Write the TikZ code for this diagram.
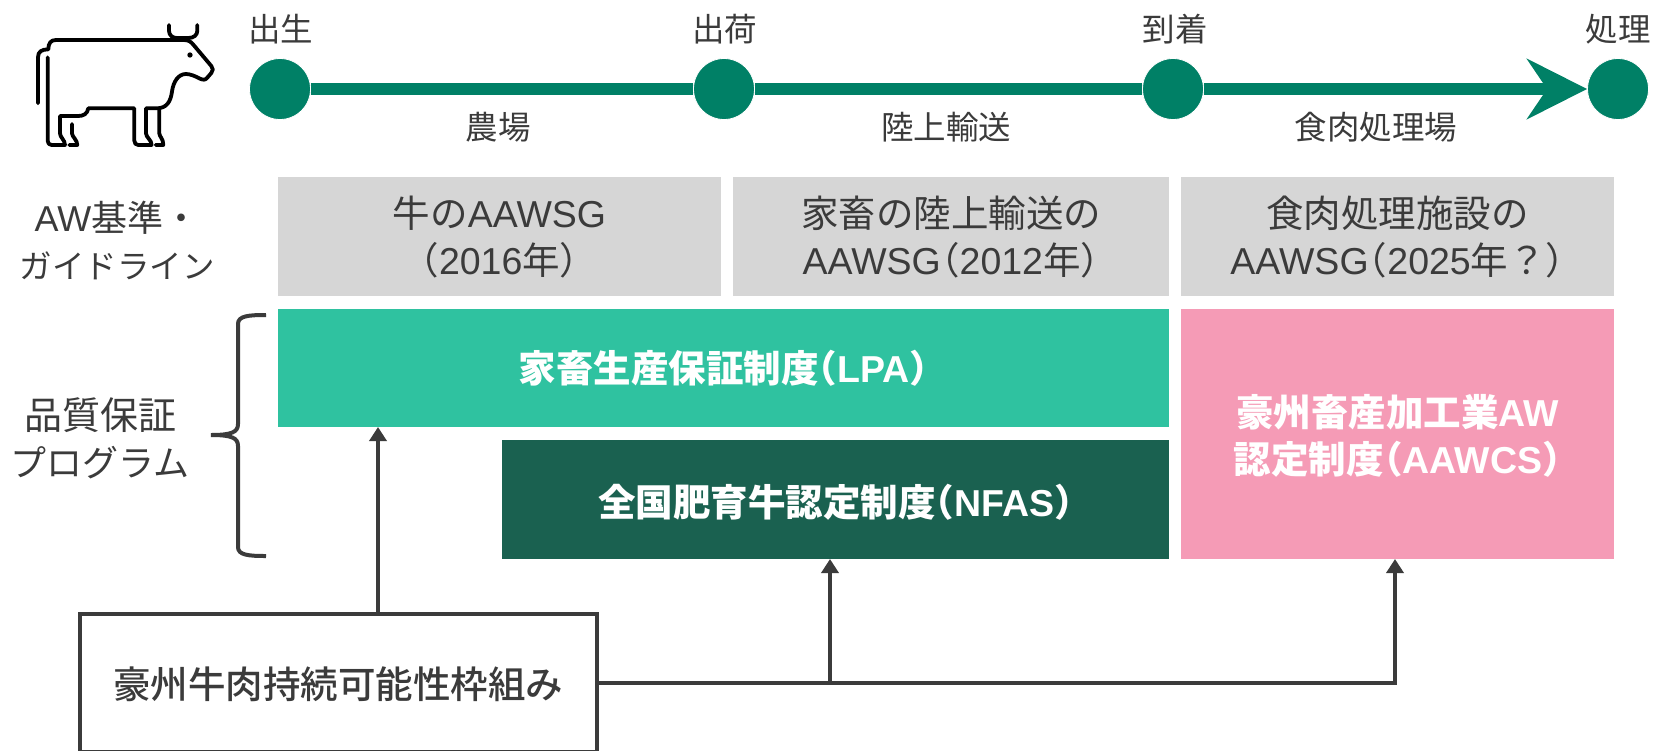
\documentclass[tikz,border=0pt]{standalone}
\usepackage{fontspec}
\setmainfont{Noto Sans CJK JP}
\newfontfamily\latfont{Liberation Sans}
\newfontfamily\heavyfont{Noto Sans CJK JP Medium}
\newfontfamily\halffont[RawFeature=+halt]{Noto Sans CJK JP}
\newcommand{\lat}[1]{{\latfont #1}}
\newcommand{\lp}{{\halffont （}}
\newcommand{\rp}{{\halffont ）}}
\newcommand{\sized}[2]{{\fontsize{#1}{47}\selectfont #2}}
\newcommand{\lowered}[2]{\raisebox{-#1}[\height][\depth]{\begin{tabular}{@{}c@{}}#2\end{tabular}}}
\usepackage{tikz}
\usetikzlibrary{arrows.meta}
\definecolor{dotgreen}{HTML}{008066}
\definecolor{lpagreen}{HTML}{2FC2A0}
\definecolor{nfasgreen}{HTML}{1A6150}
\definecolor{aapink}{HTML}{F59BB6}
\definecolor{stdgrey}{HTML}{D6D6D6}
\definecolor{inkgrey}{HTML}{3B3B3B}
\tikzset{
  dot/.style={circle,fill=dotgreen,draw=white,line width=0.8pt,minimum size=61pt,inner sep=0pt},
  track/.style={dotgreen,line width=12pt},
  stagelabel/.style={text=inkgrey,font=\fontsize{32.5}{40}\selectfont,inner sep=0pt,align=center},
  sidelabel/.style={text=inkgrey,font=\fontsize{36}{47}\selectfont,inner sep=0pt,align=center},
  greybox/.style={fill=stdgrey,text=inkgrey,inner sep=0pt,align=center,font=\fontsize{37.5}{47}\selectfont},
  progbox/.style={text=white,inner sep=0pt,align=center,font=\fontsize{37.5}{47}\selectfont\bfseries},
  link/.style={inkgrey,line width=3.6pt,-{Triangle[length=14pt,width=17pt]}},
  cowline/.style={black,line width=3.8pt,line cap=round,line join=round},
}
\begin{document}
\begin{tikzpicture}[x=1pt,y=-1pt]
\useasboundingbox (0,0) rectangle (1653,750);
% timeline
\node[dot] (birth) at (280,89) {};
\node[dot] (ship) at (724,89) {};
\node[dot] (arrive) at (1173,89) {};
\node[dot] (slaughter) at (1618,89) {};
\draw[track] (birth) -- (ship);
\draw[track] (ship) -- (arrive);
\draw[track,-{Stealth[length=60pt,width=60pt,inset=20pt]}] (arrive) -- (slaughter);
\node[stagelabel] (birthlabel) at (280.5,29.5) {出生};
\node[stagelabel] (shiplabel) at (724.5,29.5) {出荷};
\node[stagelabel] (arrivelabel) at (1175,29.5) {到着};
\node[stagelabel] (slaughterlabel) at (1618,29.5) {処理};
\node[stagelabel] (farmlabel) at (498,127) {農場};
\node[stagelabel] (transportlabel) at (946,127) {陸上輸送};
\node[stagelabel] (plantlabel) at (1376,127) {食肉処理場};
% standards row
\node[sidelabel] (awlabel) at (117,240) {\lat{AW}基準・\\\sized{32.5}{ガイドライン}};
\node[greybox,minimum width=443pt,minimum height=119pt] (farmstd) at (499.5,236.5) {\lowered{5.5pt}{牛の\lat{AAWSG}\\（\lat{2016}年）}};
\node[greybox,minimum width=436pt,minimum height=119pt] (transportstd) at (951,236.5) {\lowered{5.5pt}{家畜の陸上輸送の\\\lat{AAWSG}\lp\lat{2012}年\rp}};
\node[greybox,minimum width=433pt,minimum height=119pt] (plantstd) at (1397.5,236.5) {\lowered{5.5pt}{食肉処理施設の\\\lat{AAWSG}\lp\lat{2025}年？\rp}};
% programs
\node[progbox,fill=lpagreen,minimum width=891pt,minimum height=118pt] (lpa) at (723.5,368) {家畜生産保証制度\lp\lat{LPA}\rp};
\node[progbox,fill=nfasgreen,minimum width=667pt,minimum height=119pt] (nfas) at (835.5,499.5) {\lowered{7.4pt}{全国肥育牛認定制度\lp\lat{NFAS}\rp}};
\node[progbox,fill=aapink,minimum width=433pt,minimum height=250pt] (aawcs) at (1397.5,434) {\lowered{6.3pt}{豪州畜産加工業\lat{AW}\\認定制度\lp\lat{AAWCS}\rp}};
\node[sidelabel] (qalabel) at (100,438) {\sized{38}{品質保証}\\プログラム};
\coordinate (bracetip) at (211,435);
\draw[inkgrey,line width=4pt] (266,315) .. controls (248,315) and (238,316) .. (238,324) -- (238,424) .. controls (238,432) and (232,435) .. (bracetip) .. controls (232,435) and (238,438) .. (238,446) -- (238,547) .. controls (238,555) and (248,556) .. (266,556);
% framework box
\node[draw=inkgrey,line width=4pt,fill=white,text=inkgrey,minimum width=517pt,minimum height=138pt,inner sep=0pt,font=\fontsize{37.5}{47}\selectfont\heavyfont] (frame) at (338,683) {\lowered{6.3pt}{豪州牛肉持続可能性枠組み}};
\coordinate (lpain) at (378,427);
\coordinate (nfasin) at (830,559);
\coordinate (aawcsin) at (1395,559);
\draw[link] (lpain |- frame.north) -- (lpain);
\draw[link] (frame.east) -| (aawcsin);
\draw[link] (nfasin |- frame.east) -- (nfasin);
% cow icon
\begin{scope}[x=0.3333pt,y=-0.3333pt]
\draw[cowline] (114,310) -- (114,172) .. controls (114,155) and (125,148) .. (145,148) .. controls (145,130) and (152,120) .. (168,120) -- (550,120) .. controls (565,120) and (572,124) .. (580,134) -- (634,198) .. controls (640,205) and (640,212) .. (634,219) -- (622,233) .. controls (615,241) and (610,240) .. (600,236) .. controls (585,228) and (570,222) .. (558,222) .. controls (535,222) and (520,245) .. (516,275) .. controls (512,305) and (500,325) .. (470,325) -- (438,325) -- (438,400) .. controls (438,412) and (455,420) .. (455,435) -- (415,435) .. controls (408,435) and (403,430) .. (403,422) -- (403,325) -- (265,325) .. controls (262,342) and (250,348) .. (235,348) -- (180,348) -- (180,400) .. controls (180,412) and (195,420) .. (195,435) -- (155,435) .. controls (148,435) and (143,430) .. (143,422) -- (143,172);
\draw[cowline] (216,372) -- (216,400) .. controls (216,410) and (232,420) .. (232,435) -- (208,435);
\draw[cowline] (478,330) -- (478,400) .. controls (478,410) and (490,415) .. (490,435) -- (467,435);
\draw[cowline] (507,75) -- (507,92) .. controls (507,105) and (517,114) .. (530,114) -- (565,114) .. controls (582,114) and (592,105) .. (592,92) -- (592,75);
\fill[black] (570,165) circle (8);
\end{scope}
\end{tikzpicture}
\end{document}
